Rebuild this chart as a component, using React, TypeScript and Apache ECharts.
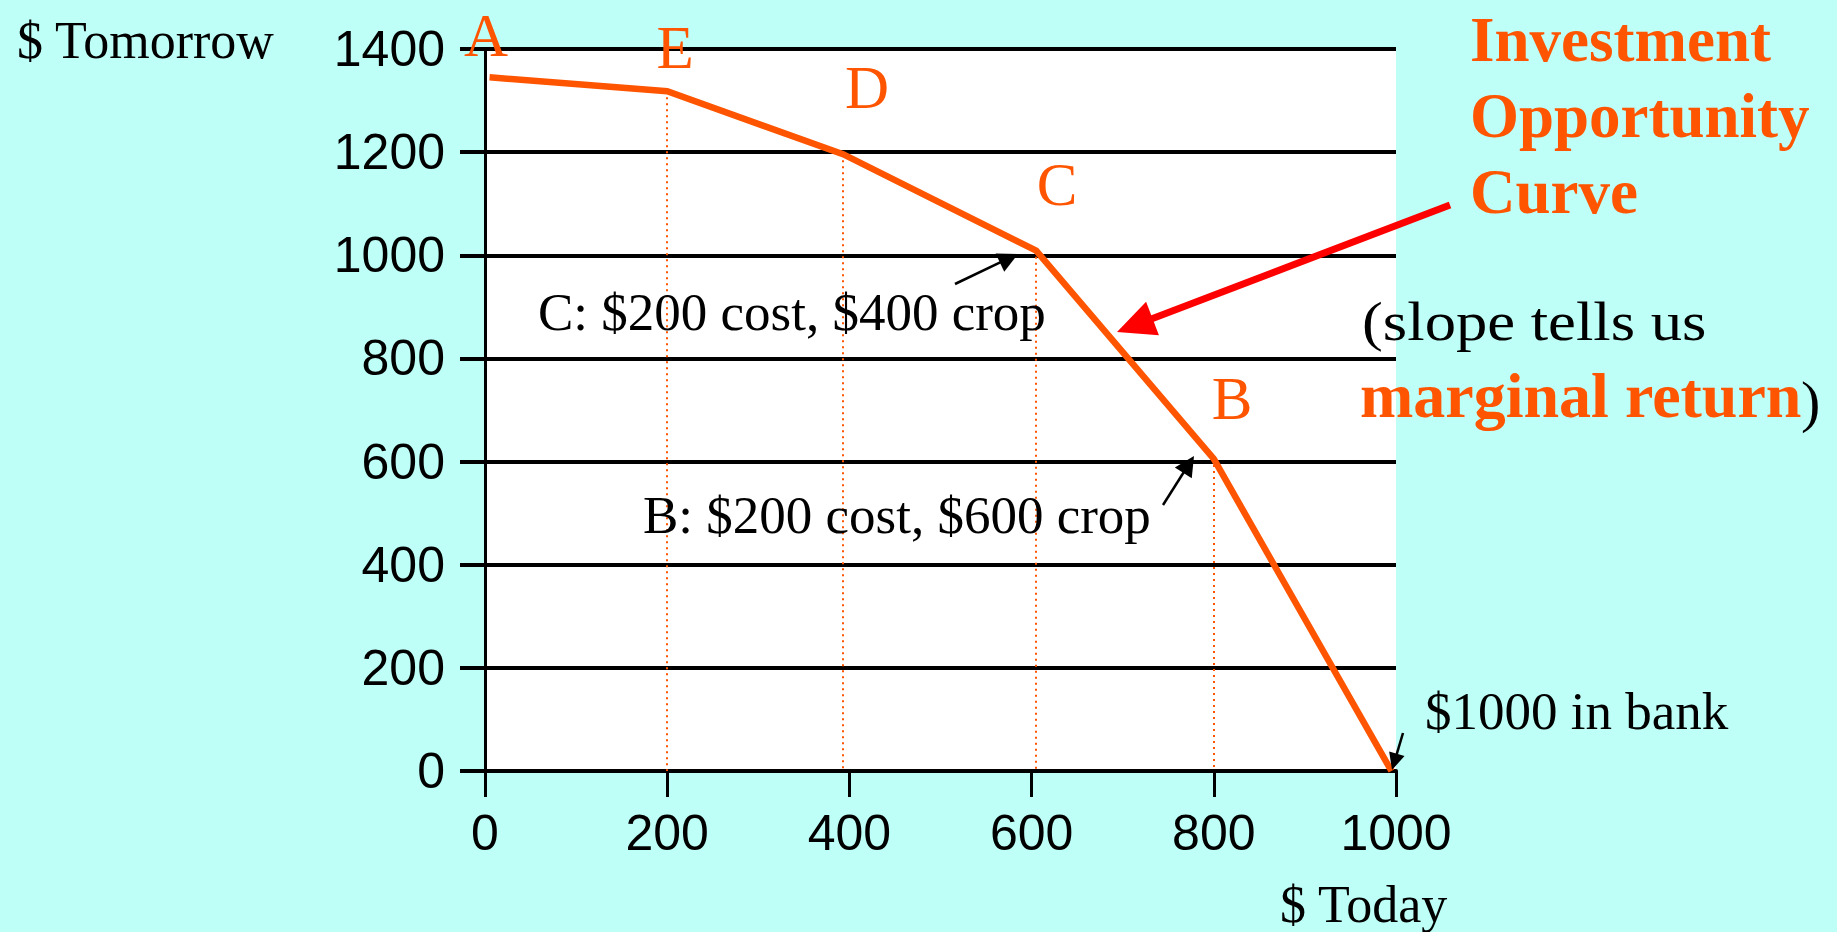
import React, { useEffect, useRef } from "react";
import * as echarts from "echarts";

// ---- data ----
const todayValues = [5, 200, 393, 605, 800, 995];
const tomorrowValues = [1345, 1318, 1196, 1009, 605, 0];
const pointLetters = ["A", "E", "D", "C", "B"];
const dottedIndexes = [1, 2, 3, 4];
const yMin = 0;
const yMax = 1400;
const yStep = 200;
const xMin = 0;
const xMax = 1000;
const xStep = 200;

const ORANGE = "#FF5500";
const BG = "#BEFFF7";
const SERIF = "'Liberation Serif', 'Times New Roman', serif";
const SANS = "'Liberation Sans', Arial, sans-serif";

function txt(x: number, baseline: number, text: string, fs: number, opts: any = {}) {
  return {
    type: "text",
    x,
    y: baseline - 0.34 * fs,
    scaleX: opts.scaleX || 1,
    z: 100,
    style: {
      text,
      x: 0,
      y: 0,
      fontSize: fs,
      lineHeight: fs,
      fontFamily: SERIF,
      fontWeight: opts.bold ? "bold" : "normal",
      fill: opts.color || "#000",
      align: opts.align || "left",
      verticalAlign: "middle",
    },
  };
}

function arrow(tail: number[], tip: number[], w: number, headLen: number, headHalf: number, color: string) {
  const dx = tip[0] - tail[0];
  const dy = tip[1] - tail[1];
  const len = Math.sqrt(dx * dx + dy * dy);
  const ux = dx / len;
  const uy = dy / len;
  const bx = tip[0] - ux * headLen;
  const by = tip[1] - uy * headLen;
  const px = -uy;
  const py = ux;
  return [
    {
      type: "line",
      z: 100,
      shape: { x1: tail[0], y1: tail[1], x2: bx + ux * 2, y2: by + uy * 2 },
      style: { stroke: color, lineWidth: w },
    },
    {
      type: "polygon",
      z: 100,
      shape: {
        points: [
          [tip[0], tip[1]],
          [bx + px * headHalf, by + py * headHalf],
          [bx - px * headHalf, by - py * headHalf],
        ],
      },
      style: { fill: color },
    },
  ];
}

export default function App() {
  const ref = useRef<HTMLDivElement>(null);
  useEffect(() => {
    if (!ref.current) return;
    const chart = echarts.init(ref.current, null, { renderer: "svg" });
    const lineData = todayValues.map((x, i) => [x, tomorrowValues[i]]);
    const dotted = dottedIndexes.map((i) => [
      { coord: [todayValues[i], tomorrowValues[i]] },
      { coord: [todayValues[i], 0] },
    ]);
    const letterPos = [
      [486, 56],
      [675, 68],
      [867, 108],
      [1057, 205],
      [1232, 419],
    ];
    const graphic: any[] = [
      txt(17, 58, "$ Tomorrow", 52),
      txt(1280, 922, "$ Today", 52),
      txt(1470, 61, "Investment", 63, { bold: true, color: ORANGE }),
      txt(1470, 137, "Opportunity", 63, { bold: true, color: ORANGE }),
      txt(1470, 213, "Curve", 63, { bold: true, color: ORANGE }),
      txt(1362, 340, "(slope tells us", 54, { scaleX: 1.16 }),
      txt(1360, 417, "marginal return", 64, { bold: true, color: ORANGE }),
      txt(1801, 421, ")", 58),
      txt(538, 330, "C: $200 cost, $400 crop", 53),
      txt(643, 533, "B: $200 cost, $600 crop", 53),
      txt(1425, 729, "$1000 in bank", 53),
      ...pointLetters.map((l, i) => txt(letterPos[i][0], letterPos[i][1], l, 61, { color: ORANGE, align: "center" })),
      ...arrow([1450, 205], [1117, 332], 7, 38, 18, "#FF0000"),
      ...arrow([955, 284], [1018, 254], 2.5, 20, 10, "#000"),
      ...arrow([1163, 505], [1194, 456], 2.5, 20, 10, "#000"),
      ...arrow([1403, 733], [1392, 770], 2.5, 17, 8, "#000"),
    ];
    chart.setOption({
      animation: false,
      backgroundColor: BG,
      grid: {
        left: 485,
        top: 49,
        width: 911,
        height: 722,
        show: true,
        backgroundColor: "#FFFFFF",
        borderWidth: 0,
      },
      xAxis: {
        type: "value",
        min: xMin,
        max: xMax,
        interval: xStep,
        axisLine: { show: true, onZero: false, lineStyle: { color: "#000", width: 4 } },
        axisTick: { show: true, length: 26, lineStyle: { color: "#000", width: 3 } },
        splitLine: { show: false },
        axisLabel: {
          fontSize: 50,
          fontFamily: SANS,
          color: "#000",
          margin: 62,
          verticalAlign: "middle",
          formatter: (v: number) => String(v),
        },
      },
      yAxis: {
        type: "value",
        min: yMin,
        max: yMax,
        interval: yStep,
        axisLine: { show: true, onZero: false, lineStyle: { color: "#000", width: 3 } },
        axisTick: { show: true, length: 25, lineStyle: { color: "#000", width: 4 } },
        splitLine: { show: true, lineStyle: { color: "#000", width: 4 } },
        axisLabel: {
          fontSize: 50,
          fontFamily: SANS,
          color: "#000",
          margin: 40,
          formatter: (v: number) => String(v),
        },
      },
      series: [
        {
          type: "line",
          data: lineData,
          showSymbol: false,
          symbol: "none",
          z: 5,
          lineStyle: { color: ORANGE, width: 6.5, cap: "butt", join: "miter" },
          markLine: {
            silent: true,
            symbol: ["none", "none"],
            label: { show: false },
            z: 3,
            lineStyle: { color: ORANGE, width: 2, type: [2, 4] },
            data: dotted,
          },
        },
      ],
      graphic,
    });
    return () => chart.dispose();
  }, []);
  return (
    <div
      ref={ref}
      style={{ position: "fixed", left: 0, top: 0, width: 1837, height: 932 }}
    />
  );
}
